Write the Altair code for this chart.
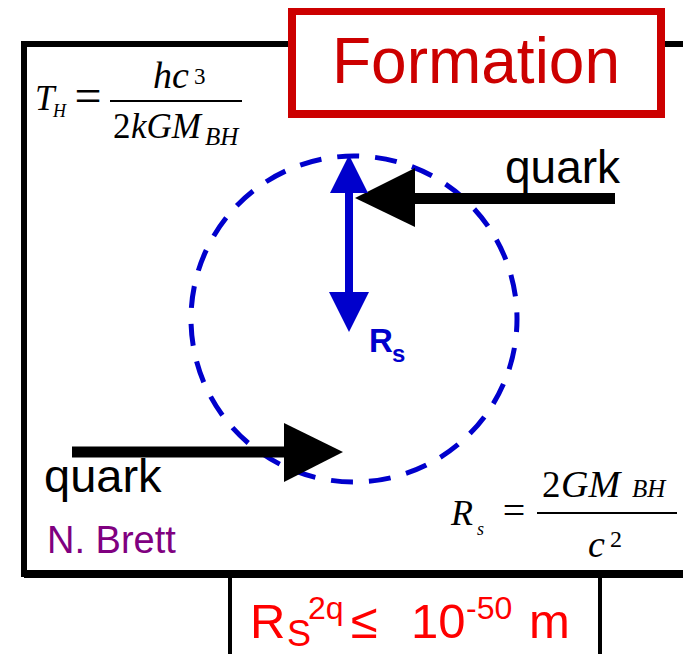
import altair as alt
import pandas as pd

# ---------------- diagram content (reference pixel coordinates) ----------------
# outer frame, title box and bottom box corners
frame_x, frame_x2, frame_y, frame_y2 = 24, 720, 44, 574
title_x, title_x2, title_y, title_y2 = 292, 661, 11, 114
bbox_x, bbox_x2, bbox_y, bbox_y2 = 230, 600, 574, 720

# dashed Schwarzschild circle
circle_cx = [354]
circle_cy = [319]
circle_r = [163]

# black quark arrows: shafts and heads
quark_shaft_x = [415, 72]
quark_shaft_x2 = [615, 284]
quark_shaft_y = [198.5, 452]
quark_head_id = ["top", "top", "bottom", "bottom"]
quark_head_x = [355, 415, 284, 343]
quark_head_y = [198, 168, 423, 452]
quark_head_y2 = [198, 227, 482, 452]

# blue double arrow (R_s)
rs_shaft_x = [349]
rs_shaft_y = [193]
rs_shaft_y2 = [292]
rs_head_id = ["up", "up", "down", "down"]
rs_head_y = [155, 193, 292, 332]
rs_head_x = [349, 330, 329, 349]
rs_head_x2 = [349, 368, 369, 349]

# fraction bars of the two formulas
frac_x = [110, 537]
frac_x2 = [242, 677]
frac_y = [101, 513]

# ---------------- scales ----------------
XS = alt.Scale(domain=[8, 683], nice=False, zero=False)
YS = alt.Scale(domain=[8, 654], nice=False, zero=False, reverse=True)


def X(f="x"):
    return alt.X(f"{f}:Q", scale=XS, axis=None)


def Y(f="y"):
    return alt.Y(f"{f}:Q", scale=YS, axis=None)


def text_layer(texts, xs, ys, **mark):
    df = pd.DataFrame({"t": texts, "x": xs, "y": ys})
    mark.setdefault("align", "left")
    return alt.Chart(df).mark_text(baseline="alphabetic", **mark).encode(
        x=X(), y=Y(), text="t:N"
    )


SANS = "Liberation Sans, Arial, Helvetica, sans-serif"
SERIF = "Liberation Serif, Times New Roman, serif"
BLUE = "#0000CC"

layers = []

# outer frame
layers.append(
    alt.Chart(pd.DataFrame({"x": [frame_x], "x2": [frame_x2], "y": [frame_y], "y2": [frame_y2]}))
    .mark_rect(stroke="black", strokeWidth=6, fillOpacity=0, clip=True)
    .encode(x=X(), x2="x2", y=Y(), y2="y2")
)
# bottom box
layers.append(
    alt.Chart(pd.DataFrame({"x": [bbox_x], "x2": [bbox_x2], "y": [bbox_y], "y2": [bbox_y2]}))
    .mark_rect(stroke="black", strokeWidth=4, fillOpacity=0, clip=True)
    .encode(x=X(), x2="x2", y=Y(), y2="y2")
)
# outer frame bottom line (thicker)
layers.append(
    alt.Chart(pd.DataFrame({"x": [frame_x], "x2": [frame_x2], "y": [frame_y2]}))
    .mark_rule(color="black", strokeWidth=8, clip=True)
    .encode(x=X(), x2="x2", y=Y())
)

# dashed circle
layers.append(
    alt.Chart(pd.DataFrame({"x": circle_cx, "y": circle_cy, "r": circle_r}))
    .transform_calculate(s="pow(2*datum.r, 2)")
    .mark_point(shape="circle", filled=False, stroke=BLUE, strokeWidth=5,
                strokeDash=[22, 16], strokeDashOffset=9, opacity=1)
    .encode(x=X(), y=Y(), size=alt.Size("s:Q", scale=None))
)

# black quark arrows
layers.append(
    alt.Chart(pd.DataFrame({"x": quark_shaft_x, "x2": quark_shaft_x2, "y": quark_shaft_y}))
    .mark_rule(color="black", strokeWidth=11)
    .encode(x=X(), x2="x2", y=Y())
)
layers.append(
    alt.Chart(pd.DataFrame({"id": quark_head_id, "x": quark_head_x, "y": quark_head_y, "y2": quark_head_y2}))
    .mark_area(color="black", interpolate="linear", opacity=1)
    .encode(x=X(), y=Y(), y2="y2", detail="id:N")
)

# blue double arrow
layers.append(
    alt.Chart(pd.DataFrame({"x": rs_shaft_x, "y": rs_shaft_y, "y2": rs_shaft_y2}))
    .mark_rule(color=BLUE, strokeWidth=8)
    .encode(x=X(), y=Y(), y2="y2")
)
layers.append(
    alt.Chart(pd.DataFrame({"id": rs_head_id, "x": rs_head_x, "x2": rs_head_x2, "y": rs_head_y}))
    .mark_area(color=BLUE, orient="horizontal", interpolate="linear", opacity=1)
    .encode(y=Y(), x=X(), x2="x2", detail="id:N")
)

# fraction bars
layers.append(
    alt.Chart(pd.DataFrame({"x": frac_x, "x2": frac_x2, "y": frac_y}))
    .mark_rule(color="black", strokeWidth=2)
    .encode(x=X(), x2="x2", y=Y())
)

# title box
layers.append(
    alt.Chart(pd.DataFrame({"x": [title_x], "x2": [title_x2], "y": [title_y], "y2": [title_y2]}))
    .mark_rect(stroke="#CC0000", strokeWidth=8, fill="white")
    .encode(x=X(), x2="x2", y=Y(), y2="y2")
)

# ---------------- texts ----------------
layers.append(text_layer(["Formation"], [476], [83], align="center", font=SANS, fontSize=64, color="#CC0000"))
layers.append(text_layer(["quark"], [505], [183], font=SANS, fontSize=46, color="black"))
layers.append(text_layer(["quark"], [44], [492], font=SANS, fontSize=47, color="black"))
layers.append(text_layer(["N. Brett"], [47], [553], font=SANS, fontSize=38, color="#800080"))
layers.append(text_layer(["R"], [369], [352], font=SANS, fontSize=33, fontWeight="bold", color=BLUE))
layers.append(text_layer(["s"], [392], [362], font=SANS, fontSize=24, fontWeight="bold", color=BLUE))

# T_H = hc^3 / (2kGM_BH)
layers.append(text_layer(["T", "kGM"], [35, 131], [110, 138],
                         font=SERIF, fontSize=35, fontStyle="italic", color="black"))
layers.append(text_layer(["hc"], [153], [88], font=SERIF, fontSize=38, fontStyle="italic", color="black"))
layers.append(text_layer(["2"], [113], [138], font=SERIF, fontSize=35, color="black"))
layers.append(text_layer(["H"], [53], [117], font=SERIF, fontSize=18, fontStyle="italic", color="black"))
layers.append(text_layer(["BH"], [205], [145], font=SERIF, fontSize=25, fontStyle="italic", color="black"))
layers.append(text_layer(["3"], [194], [84], font=SERIF, fontSize=23, color="black"))
layers.append(text_layer(["="], [88], [112], align="center", font=SERIF, fontSize=48, color="black"))

# R_s = 2GM_BH / c^2
layers.append(text_layer(["R"], [451], [525], font=SERIF, fontSize=36, fontStyle="italic", color="black"))
layers.append(text_layer(["GM", "c"], [561, 588], [497, 557],
                         font=SERIF, fontSize=38, fontStyle="italic", color="black"))
layers.append(text_layer(["2"], [542], [497], font=SERIF, fontSize=37, color="black"))
layers.append(text_layer(["s"], [477], [535], font=SERIF, fontSize=18, fontStyle="italic", color="black"))
layers.append(text_layer(["BH"], [632], [497], font=SERIF, fontSize=25, fontStyle="italic", color="black"))
layers.append(text_layer(["2"], [610], [547], font=SERIF, fontSize=24, color="black"))
layers.append(text_layer(["="], [514], [524], align="center", font=SERIF, fontSize=40, color="black"))

# R_S^2q <= 10^-50 m
layers.append(text_layer(["R", "\u2264", "10", "m"], [250, 351, 411, 529], [638, 638, 638, 638],
                         font=SANS, fontSize=49, color="#FF0000"))
layers.append(text_layer(["S"], [287], [646], font=SANS, fontSize=36, color="#FF0000"))
layers.append(text_layer(["2q", "-50"], [308, 466], [619, 619], font=SANS, fontSize=32, color="#FF0000"))

chart = (
    alt.layer(*layers)
    .properties(width=675, height=646, padding=0, autosize="none", background="white")
    .configure_view(stroke=None)
)

chart.save("out.html", embed_options={"renderer": "svg", "actions": False})
